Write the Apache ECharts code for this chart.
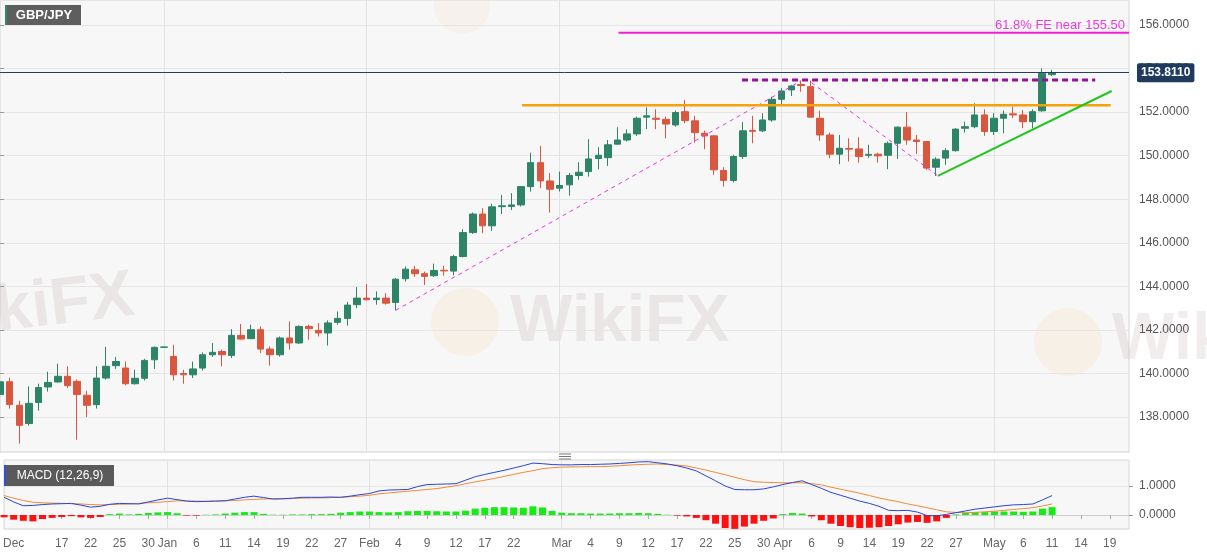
<!DOCTYPE html>
<html><head><meta charset="utf-8">
<script src="https://cdn.jsdelivr.net/npm/echarts@6/dist/echarts.min.js"></script>
<style>html,body{margin:0;padding:0;background:#fff}#c{width:1207px;height:555px}</style>
</head><body><div id="c"></div>
<script>
const dates = [
 '2020-12-09','2020-12-10','2020-12-11','2020-12-14','2020-12-15','2020-12-16','2020-12-17','2020-12-18','2020-12-21','2020-12-22','2020-12-23','2020-12-24','2020-12-25','2020-12-28','2020-12-29','2020-12-30','2020-12-31',
 '2021-01-01','2021-01-04','2021-01-05','2021-01-06','2021-01-07','2021-01-08','2021-01-11','2021-01-12','2021-01-13','2021-01-14','2021-01-15','2021-01-18','2021-01-19','2021-01-20','2021-01-21','2021-01-22','2021-01-25','2021-01-26','2021-01-27','2021-01-28','2021-01-29',
 '2021-02-01','2021-02-02','2021-02-03','2021-02-04','2021-02-05','2021-02-08','2021-02-09','2021-02-10','2021-02-11','2021-02-12','2021-02-15','2021-02-16','2021-02-17','2021-02-18','2021-02-19','2021-02-22','2021-02-23','2021-02-24','2021-02-25','2021-02-26',
 '2021-03-01','2021-03-02','2021-03-03','2021-03-04','2021-03-05','2021-03-08','2021-03-09','2021-03-10','2021-03-11','2021-03-12','2021-03-15','2021-03-16','2021-03-17','2021-03-18','2021-03-19','2021-03-22','2021-03-23','2021-03-24','2021-03-25','2021-03-26','2021-03-29','2021-03-30','2021-03-31',
 '2021-04-01','2021-04-02','2021-04-05','2021-04-06','2021-04-07','2021-04-08','2021-04-09','2021-04-12','2021-04-13','2021-04-14','2021-04-15','2021-04-16','2021-04-19','2021-04-20','2021-04-21','2021-04-22','2021-04-23','2021-04-26','2021-04-27','2021-04-28','2021-04-29','2021-04-30',
 '2021-05-03','2021-05-04','2021-05-05','2021-05-06','2021-05-07','2021-05-10','2021-05-11','2021-05-12','2021-05-13','2021-05-14','2021-05-17','2021-05-18','2021-05-19','2021-05-20','2021-05-21'
];
const tickDates = ['2020-12-10','2020-12-17','2020-12-22','2020-12-25','2020-12-30','2021-01-01','2021-01-06','2021-01-11','2021-01-14','2021-01-19','2021-01-22','2021-01-27','2021-02-01','2021-02-04','2021-02-09','2021-02-12','2021-02-17','2021-02-22','2021-03-01','2021-03-04','2021-03-09','2021-03-12','2021-03-17','2021-03-22','2021-03-25','2021-03-30','2021-04-01','2021-04-06','2021-04-09','2021-04-14','2021-04-19','2021-04-22','2021-04-27','2021-05-03','2021-05-06','2021-05-11','2021-05-14','2021-05-19'];
const tickLabels = ['Dec','17','22','25','30','Jan','6','11','14','19','22','27','Feb','4','9','12','17','22','Mar','4','9','12','17','22','25','30','Apr','6','9','14','19','22','27','May','6','11','14','19'];
const monthStarts = ['2021-01-01','2021-02-01','2021-03-01','2021-04-01','2021-05-03'];

const opens = [
 139.03,139.62,138.54,137.70,138.67,139.38,139.61,139.87,139.64,139.00,
 138.57,139.79,140.36,140.25,139.53,139.78,140.63,141.20,140.78,140.00,
 139.94,140.25,140.86,141.01,140.83,141.75,141.60,142.01,141.12,140.86,
 141.63,141.40,142.16,141.98,141.86,142.35,142.53,143.16,143.46,143.39,
 143.46,143.26,144.35,144.76,144.58,144.49,144.74,144.70,145.37,146.47,
 147.32,146.78,147.66,147.67,147.74,148.58,149.68,148.84,148.51,148.66,
 149.09,149.27,149.87,149.91,150.53,150.72,151.00,151.77,151.72,151.67,
 151.41,152.02,151.60,151.03,150.91,149.32,148.86,149.96,151.16,151.14,
 151.64,152.59,153.02,153.27,153.17,151.72,150.95,150.07,150.33,150.31,
 150.02,150.07,150.02,150.57,151.31,150.72,150.65,149.47,149.89,150.23,
 151.26,151.33,151.87,151.11,151.72,151.92,151.87,151.56,152.06,153.72];
const closes = [
 139.62,138.57,137.62,138.63,139.36,139.59,139.87,139.44,139.03,138.54,
 139.79,140.33,140.55,139.53,139.78,140.60,141.20,141.22,139.94,139.94,
 140.21,140.86,140.97,140.86,141.75,141.58,142.01,141.12,140.86,141.63,
 141.40,142.16,142.06,141.86,142.32,142.53,143.14,143.46,143.39,143.46,
 143.23,144.33,144.79,144.58,144.46,144.73,144.71,145.37,146.47,147.32,
 146.78,147.65,147.70,147.74,148.58,149.68,148.84,148.46,148.63,149.09,
 149.24,149.85,150.02,150.50,150.72,151.00,151.72,151.83,151.67,151.45,
 151.98,151.61,151.06,150.91,149.35,148.86,149.96,151.14,151.12,151.64,
 152.59,152.97,153.20,153.22,151.77,150.95,150.07,150.34,150.30,149.96,
 150.06,149.99,150.57,151.31,150.72,150.65,149.43,149.84,150.23,151.22,
 151.33,151.87,151.11,151.72,151.90,151.87,151.56,152.02,153.78,153.811];
const lows = [
 138.90,138.39,136.78,137.61,138.29,139.17,139.58,139.33,136.96,138.00,
 138.39,139.72,140.21,139.45,139.49,139.68,140.21,141.18,139.68,139.53,
 139.79,140.14,140.76,140.33,140.71,141.55,141.58,140.94,140.36,140.78,
 141.09,141.37,141.55,141.70,141.28,142.24,142.20,143.00,143.35,143.16,
 143.16,142.90,144.22,144.43,144.06,144.43,144.49,144.50,145.33,146.41,
 146.44,146.55,147.32,147.51,147.67,148.35,148.51,147.39,148.35,148.16,
 148.89,149.04,149.38,149.53,150.50,150.65,150.91,151.22,151.22,150.80,
 151.33,151.49,150.60,150.30,149.12,148.58,148.77,149.85,150.57,151.08,
 151.56,152.36,152.74,152.94,151.77,150.68,149.89,149.61,149.73,149.68,
 149.89,149.68,149.38,149.85,150.50,150.08,149.35,149.07,149.58,150.19,
 151.06,151.26,150.91,150.95,151.03,151.72,151.26,151.26,152.02,153.66];
const highs = [
 140.31,139.81,138.75,139.41,139.53,140.08,140.45,140.33,139.72,139.21,
 140.33,141.22,140.76,140.55,140.17,140.67,141.24,141.24,141.32,140.17,
 140.55,140.97,141.40,141.09,142.04,142.27,142.24,142.16,141.24,141.70,
 142.39,142.21,142.24,142.32,142.44,142.85,143.29,143.97,144.11,143.77,
 143.69,144.38,144.91,144.94,144.68,145.04,144.94,145.45,146.63,147.39,
 147.59,147.79,148.20,148.28,148.61,150.14,150.45,149.20,149.27,149.20,
 149.70,150.76,150.39,150.72,151.31,151.21,151.79,152.22,152.13,151.79,
 152.07,152.56,151.83,151.15,150.95,149.47,150.04,151.54,151.83,151.95,
 152.71,153.10,153.25,153.45,153.45,152.07,151.06,150.95,150.80,150.85,
 150.50,150.14,150.65,151.34,152.00,150.95,150.68,149.93,150.34,151.26,
 151.56,152.41,152.13,151.95,152.07,152.25,152.10,152.13,154.01,153.94];

const macdLine = [
 0.61,0.45,0.32,0.33,0.36,0.38,0.39,0.40,0.34,0.27,
 0.30,0.37,0.40,0.39,0.38,0.45,0.52,0.58,0.53,0.48,
 0.46,0.47,0.48,0.49,0.55,0.61,0.65,0.60,0.55,0.56,
 0.58,0.61,0.61,0.61,0.62,0.61,0.65,0.70,0.74,0.83,
 0.86,0.87,0.88,0.98,1.05,1.06,1.07,1.08,1.20,1.32,
 1.40,1.47,1.54,1.62,1.70,1.79,1.77,1.74,1.73,1.73,
 1.74,1.74,1.75,1.76,1.78,1.80,1.83,1.84,1.80,1.76,
 1.70,1.62,1.52,1.35,1.18,1.00,0.88,0.87,0.87,0.90,
 0.97,1.05,1.12,1.18,1.05,0.92,0.78,0.68,0.58,0.48,
 0.40,0.30,0.16,0.15,0.16,0.10,-0.02,-0.03,0.02,0.08,
 0.14,0.20,0.24,0.28,0.32,0.35,0.36,0.38,0.52,0.67];
const signalLine = [
 0.67,0.58,0.50,0.44,0.42,0.41,0.40,0.39,0.38,0.36,
 0.35,0.36,0.37,0.38,0.40,0.42,0.44,0.46,0.49,0.48,
 0.48,0.47,0.48,0.49,0.50,0.52,0.54,0.55,0.56,0.56,
 0.57,0.58,0.59,0.59,0.60,0.61,0.63,0.65,0.68,0.73,
 0.76,0.79,0.82,0.85,0.88,0.91,0.96,1.01,1.08,1.14,
 1.20,1.26,1.33,1.40,1.47,1.53,1.60,1.63,1.65,1.66,
 1.66,1.67,1.67,1.68,1.70,1.72,1.74,1.75,1.76,1.74,
 1.72,1.69,1.62,1.55,1.47,1.39,1.30,1.22,1.15,1.13,
 1.12,1.11,1.11,1.11,1.08,1.04,0.96,0.89,0.82,0.75,
 0.67,0.59,0.52,0.46,0.38,0.32,0.25,0.18,0.11,0.09,
 0.08,0.09,0.11,0.13,0.16,0.19,0.22,0.25,0.31,0.38];
const histogram = [
 -0.08,-0.16,-0.20,-0.22,-0.14,-0.10,-0.07,-0.04,-0.08,-0.10,
 -0.07,0.03,0.05,0.02,0.04,0.07,0.09,0.10,0.06,-0.02,
 -0.02,0.01,0.02,0.05,0.08,0.10,0.10,0.04,0.01,0.01,
 0.02,0.02,0.03,0.03,0.04,0.08,0.10,0.12,0.12,0.10,
 0.09,0.10,0.13,0.14,0.14,0.13,0.12,0.12,0.15,0.22,
 0.25,0.27,0.27,0.26,0.25,0.30,0.26,0.14,0.08,0.06,
 0.06,0.05,0.05,0.05,0.06,0.06,0.07,0.06,0.04,0.01,
 -0.02,-0.05,-0.10,-0.18,-0.30,-0.45,-0.48,-0.40,-0.30,-0.20,
 -0.12,0.03,0.07,0.05,-0.05,-0.18,-0.30,-0.38,-0.42,-0.45,
 -0.44,-0.42,-0.38,-0.32,-0.26,-0.24,-0.27,-0.22,-0.10,0.02,
 0.07,0.10,0.10,0.12,0.12,0.12,0.11,0.12,0.22,0.27];

const lastPrice = 153.811;
const feLabel = '61.8% FE near 155.50';
// overlay segments: [index position, price]
const feLine = [[64.1, 155.65], [117, 155.65]];
const resistanceLine = [[76.9, 153.48], [113.5, 153.48]];
const supportLine = [[54.1, 152.31], [115.1, 152.31]];
const trendLine = [[97.2, 149.07], [115.2, 152.97]];
const waveUp = [[41, 142.9], [83, 153.43]];
const waveDown = [[84.1, 153.35], [97.2, 149.07]];

const labelMap = {};
tickDates.forEach((d, i) => { labelMap[d] = tickLabels[i]; });
const isTick = (i, v) => labelMap[v] !== undefined;
const isMonth = (i, v) => monthStarts.indexOf(v) >= 0;

const candleData = opens.map((o, i) => [o, closes[i], lows[i], highs[i]]);

const FONT = "'Liberation Sans', Arial, sans-serif";
const UP = '#2d8467', DOWN = '#d9573f';

function seg(name, pts, color, width, type, z) {
  return { name, type: 'line', xAxisIndex: 2, yAxisIndex: 0, data: pts, symbol: 'none',
    silent: true, z: z || 5, lineStyle: { color, width, type }, animation: false };
}

const chart = echarts.init(document.getElementById('c'), null, { renderer: 'canvas' });
chart.setOption({
  animation: false,
  backgroundColor: '#ffffff',
  grid: [
    { left: 0, right: 78, top: 0, height: 452, show: true, backgroundColor: '#f7f7f7', borderColor: '#d4d4d4', borderWidth: 1 },
    { left: 0, right: 78, top: 460, height: 69, show: true, backgroundColor: '#f7f7f7', borderColor: '#d4d4d4', borderWidth: 1 }
  ],
  xAxis: [
    { type: 'category', gridIndex: 0, data: dates, boundaryGap: false,
      axisLine: { show: false }, axisTick: { show: false }, axisLabel: { show: false },
      splitLine: { show: true, interval: isMonth, lineStyle: { color: '#e2e2e2', width: 1 } } },
    { type: 'category', gridIndex: 1, data: dates, boundaryGap: false,
      axisLine: { show: true, lineStyle: { color: '#cfcfcf' } },
      axisTick: { show: true, interval: isTick, length: 4, lineStyle: { color: '#aaa' } },
      axisLabel: { show: true, interval: isTick, formatter: v => labelMap[v] || '', color: '#666',
        fontSize: 12, fontFamily: FONT, margin: 9 },
      splitLine: { show: true, interval: isMonth, lineStyle: { color: '#e2e2e2', width: 1 } } },
    { type: 'value', gridIndex: 0, min: 0, max: dates.length - 1, show: false }
  ],
  yAxis: [
    { type: 'value', gridIndex: 0, position: 'right', min: 136.395, max: 157.148,
      minInterval: 2, maxInterval: 2, scale: true,
      axisLine: { show: false },
      axisTick: { show: true, length: 4, lineStyle: { color: '#999' } },
      axisLabel: { formatter: v => v.toFixed(4), color: '#555', fontSize: 12, fontFamily: FONT, margin: 10,
        showMinLabel: false, showMaxLabel: false },
      splitLine: { show: true, lineStyle: { color: '#e6e6e6' } } },
    { type: 'value', gridIndex: 1, position: 'right', min: -0.483, max: 1.897,
      minInterval: 1, maxInterval: 1,
      axisLine: { show: false },
      axisTick: { show: true, length: 4, lineStyle: { color: '#999' } },
      axisLabel: { formatter: v => v.toFixed(4), color: '#555', fontSize: 12, fontFamily: FONT, margin: 10,
        showMinLabel: false, showMaxLabel: false },
      splitLine: { show: true, lineStyle: { color: '#e6e6e6' } } }
  ],
  series: [
    { name: 'GBP/JPY', type: 'candlestick', xAxisIndex: 0, yAxisIndex: 0, data: candleData,
      barWidth: 7, clip: true, z: 3,
      itemStyle: { color: UP, color0: DOWN, borderColor: UP, borderColor0: DOWN, borderWidth: 1 },
      markLine: { silent: true, symbol: 'none', animation: false,
        lineStyle: { color: '#27405f', width: 1, type: 'solid' },
        label: { show: true, position: 'end', distance: 8, formatter: lastPrice.toFixed(4),
          backgroundColor: '#1f3a5c', color: '#fff', fontWeight: 'bold', fontSize: 12, fontFamily: FONT,
          padding: [4, 4, 3, 4], borderRadius: 2 },
        data: [{ yAxis: lastPrice }] } },
    seg('wave-up', waveUp, '#ee30ee', 1, [4, 4], 4),
    seg('wave-down', waveDown, '#ee30ee', 1, [4, 4], 4),
    seg('support', supportLine, '#f5a10a', 2.5, 'solid', 6),
    seg('resistance', resistanceLine, '#96109a', 3, [6, 4], 6),
    seg('trend', trendLine, '#24c41e', 2, 'solid', 6),
    { name: 'fe', type: 'line', xAxisIndex: 2, yAxisIndex: 0, data: feLine, symbol: 'none', silent: true, z: 6,
      lineStyle: { color: '#f01ed9', width: 2 },
      markLine: { silent: true, symbol: 'none', animation: false,
        lineStyle: { color: 'rgba(0,0,0,0)', width: 1 },
        label: { show: true, position: 'insideEndTop', formatter: feLabel, color: '#e83ce0',
          fontSize: 13, fontFamily: FONT, distance: [4, 1] },
        data: [[{ coord: feLine[0] }, { coord: feLine[1] }]] } },
    { name: 'MACD hist', type: 'bar', xAxisIndex: 1, yAxisIndex: 1, data: histogram, barWidth: 7, z: 2,
      itemStyle: { color: p => (p.value >= 0 ? '#14ec14' : '#ff1010') } },
    { name: 'MACD', type: 'line', xAxisIndex: 1, yAxisIndex: 1, data: macdLine, symbol: 'none', z: 4,
      lineStyle: { color: '#2a45d6', width: 1 } },
    { name: 'Signal', type: 'line', xAxisIndex: 1, yAxisIndex: 1, data: signalLine, symbol: 'none', z: 3,
      lineStyle: { color: '#f28a3a', width: 1 } }
  ],
  graphic: [
    { type: 'group', silent: true, z: -1, children: [
      { type: 'circle', shape: { cx: 465, cy: 322, r: 34 }, style: { fill: 'rgba(240,205,150,0.16)' } },
      { type: 'text', x: 510, y: 290, style: { text: 'WikiFX', font: 'bold 66px ' + FONT, fill: 'rgba(190,175,170,0.22)' } },
      { type: 'circle', shape: { cx: 1068, cy: 342, r: 34 }, style: { fill: 'rgba(240,205,150,0.16)' } },
      { type: 'text', x: 1112, y: 308, style: { text: 'WikiFX', font: 'bold 66px ' + FONT, fill: 'rgba(190,175,170,0.22)' } },
      { type: 'text', x: -88, y: 290, rotation: 0.12, style: { text: 'WikiFX', font: 'bold 66px ' + FONT, fill: 'rgba(190,175,170,0.22)' } },
      { type: 'circle', shape: { cx: 462, cy: 6, r: 28 }, style: { fill: 'rgba(240,205,150,0.12)' } }
    ] },
    { type: 'group', silent: true, z: 100, children: [
      { type: 'rect', shape: { x: 5, y: 5, width: 76, height: 21 }, style: { fill: '#5e5e5e' } },
      { type: 'rect', shape: { x: 5, y: 5, width: 2, height: 21 }, style: { fill: '#2f8a6d' } },
      { type: 'text', x: 44, y: 15.5, style: { text: 'GBP/JPY', font: 'bold 13px ' + FONT, fill: '#fff', align: 'center', verticalAlign: 'middle' } },
      { type: 'rect', shape: { x: 4, y: 465, width: 110, height: 21 }, style: { fill: '#5a5a5a' } },
      { type: 'rect', shape: { x: 4, y: 465, width: 2, height: 21 }, style: { fill: '#2f4ee0' } },
      { type: 'text', x: 60, y: 475.5, style: { text: 'MACD (12,26,9)', font: '12px ' + FONT, fill: '#fff', align: 'center', verticalAlign: 'middle' } },
      { type: 'line', shape: { x1: 559, y1: 454, x2: 571, y2: 454 }, style: { stroke: '#777', lineWidth: 1 } },
      { type: 'line', shape: { x1: 559, y1: 456.5, x2: 571, y2: 456.5 }, style: { stroke: '#777', lineWidth: 1 } },
      { type: 'line', shape: { x1: 559, y1: 459, x2: 571, y2: 459 }, style: { stroke: '#777', lineWidth: 1 } }
    ] }
  ]
});
</script></body></html>
